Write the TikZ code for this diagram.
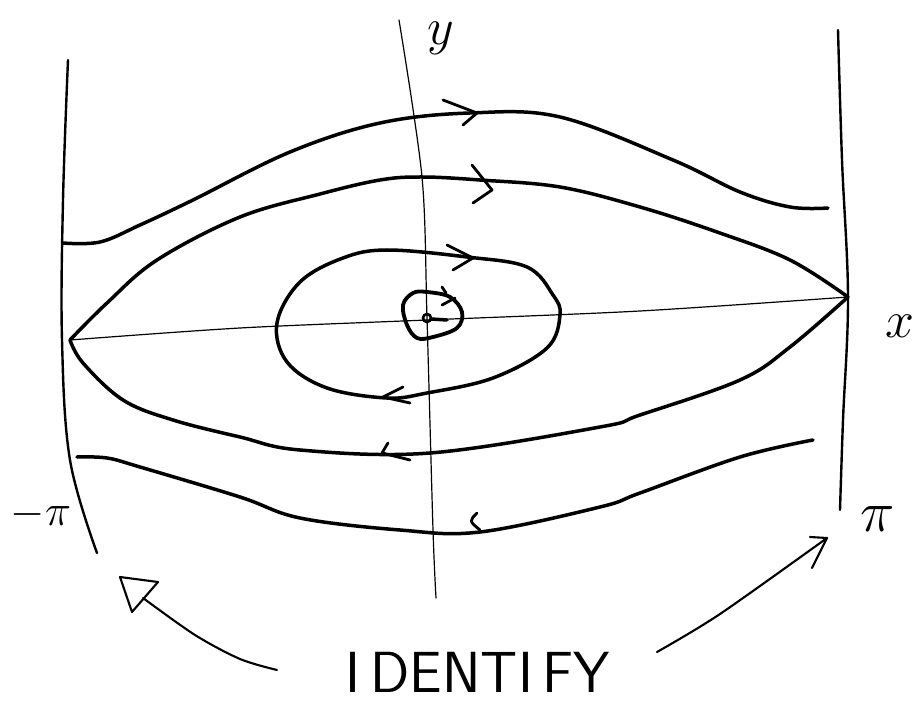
\documentclass[tikz,border=0pt]{standalone}
\usepackage{fix-cm}
\usepackage{fontspec}
\begin{document}
\begin{tikzpicture}[x=1pt,y=-1pt,
  curve/.style={line width=3.5pt,line cap=round,line join=round},
  wall/.style={line width=2.4pt,line cap=round,line join=round},
  axisline/.style={line width=1.2pt,line cap=round},
  barb/.style={line width=2.8pt,line cap=round,line join=round},
  idarrow/.style={line width=2.1pt,line cap=round,line join=round},
  lbl/.style={inner sep=0pt}]
\useasboundingbox (0,0) rectangle (921,711);
% saddle points
\coordinate (L) at (70,340);
\coordinate (R) at (848,297);
\coordinate (O) at (427,318);
% walls at -pi and pi
\draw[wall] plot[smooth,tension=0.6] coordinates {(68,60) (63,200) (62,340) (70,460) (97,553)};
\draw[wall] plot[smooth,tension=0.6] coordinates {(838,30) (842,160) (848,297) (843,420) (840,510)};
% axes
\draw[axisline] plot[smooth] coordinates {(L) (240,328) (427,320) (640,311) (R)};
\draw[axisline] plot[smooth,tension=0.5] coordinates {(399,20) (422,177) (O) (433,530) (436,598)};
% top rotating orbit
\draw[curve] plot[smooth,tension=0.6] coordinates {(63,243) (100,242) (140,225) (193,200) (290,152) (380,123) (470,113) (560,117) (673,160) (740,192) (790,207) (828,208)};
% upper separatrix
\draw[curve] plot[smooth,tension=0.6] coordinates {(L) (107,303) (157,260) (240,217) (320,194) (380,180) (422,177) (480,180) (560,187) (640,207) (717,232) (790,260) (R)};
% lower separatrix
\draw[curve] plot[smooth,tension=0.6] coordinates {(L) (83,363) (123,400) (173,420) (240,437) (300,450) (430,453) (600,427) (640,415) (740,380) (790,347) (R)};
% bottom rotating orbit
\draw[curve] plot[smooth,tension=0.6] coordinates {(77,457) (107,458) (140,467) (240,497) (300,518) (400,530) (480,532) (600,507) (640,493) (740,457) (813,440)};
% closed orbit
\draw[curve] plot[smooth cycle,tension=0.6] coordinates {(277,323) (300,282) (343,258) (387,250) (467,257) (527,267) (553,295) (560,315) (547,348) (493,378) (427,393) (387,398) (327,388) (287,362)};
% small spiral near origin
\draw[curve,line width=3.8pt] plot[smooth cycle,tension=0.6] coordinates {(427,292) (450,297) (462,312) (457,328) (433,337) (417,338) (407,325) (403,305) (413,293)};
\draw[line width=2.6pt] (O) circle (4);
\draw[curve] (431,319) -- (447,320);
\draw[barb] (442,287) -- (446,293);
\draw[barb] (442,305) -- (455,298);
% direction marks
\draw[barb] (443,100) -- (477,113) -- (463,125);
\draw[barb] (472,165) -- (492,190) -- (473,203);
\draw[barb] (447,245) -- (473,258) -- (453,270);
\draw[barb] (403,387) -- (383,397) -- (410,403);
\draw[barb] (388,443) -- (382,453) -- (410,460);
\draw[barb] (477,513) .. controls (469,521) .. (480,530);
% labels
\node[lbl] (ylab) at (441,38) {\fontsize{52}{52}\selectfont$y$};
\node[lbl] (xlab) at (900,326) {\fontsize{52}{52}\selectfont$x$};
\node[lbl] (mpi) at (41,514) {\fontsize{44}{44}\selectfont$-\pi$};
\node[lbl] (ppi) at (878,519) {\fontsize{58}{58}\selectfont$\pi$};
\node[lbl] (ident) at (478,672) {\fontsize{58}{58}\selectfont\sffamily I\,DENTI\,FY};
% identification arrows
\draw[idarrow] plot[smooth] coordinates {(277,670) (240,659) (195,635) (143,598)};
\draw[idarrow] (120,577) -- (158,582) -- (132,612) -- cycle;
\draw[idarrow] plot[smooth] coordinates {(657,652) (720,614) (827,538)};
\draw[idarrow] (810,537) -- (827,538) -- (812,568);
\end{tikzpicture}
\end{document}
